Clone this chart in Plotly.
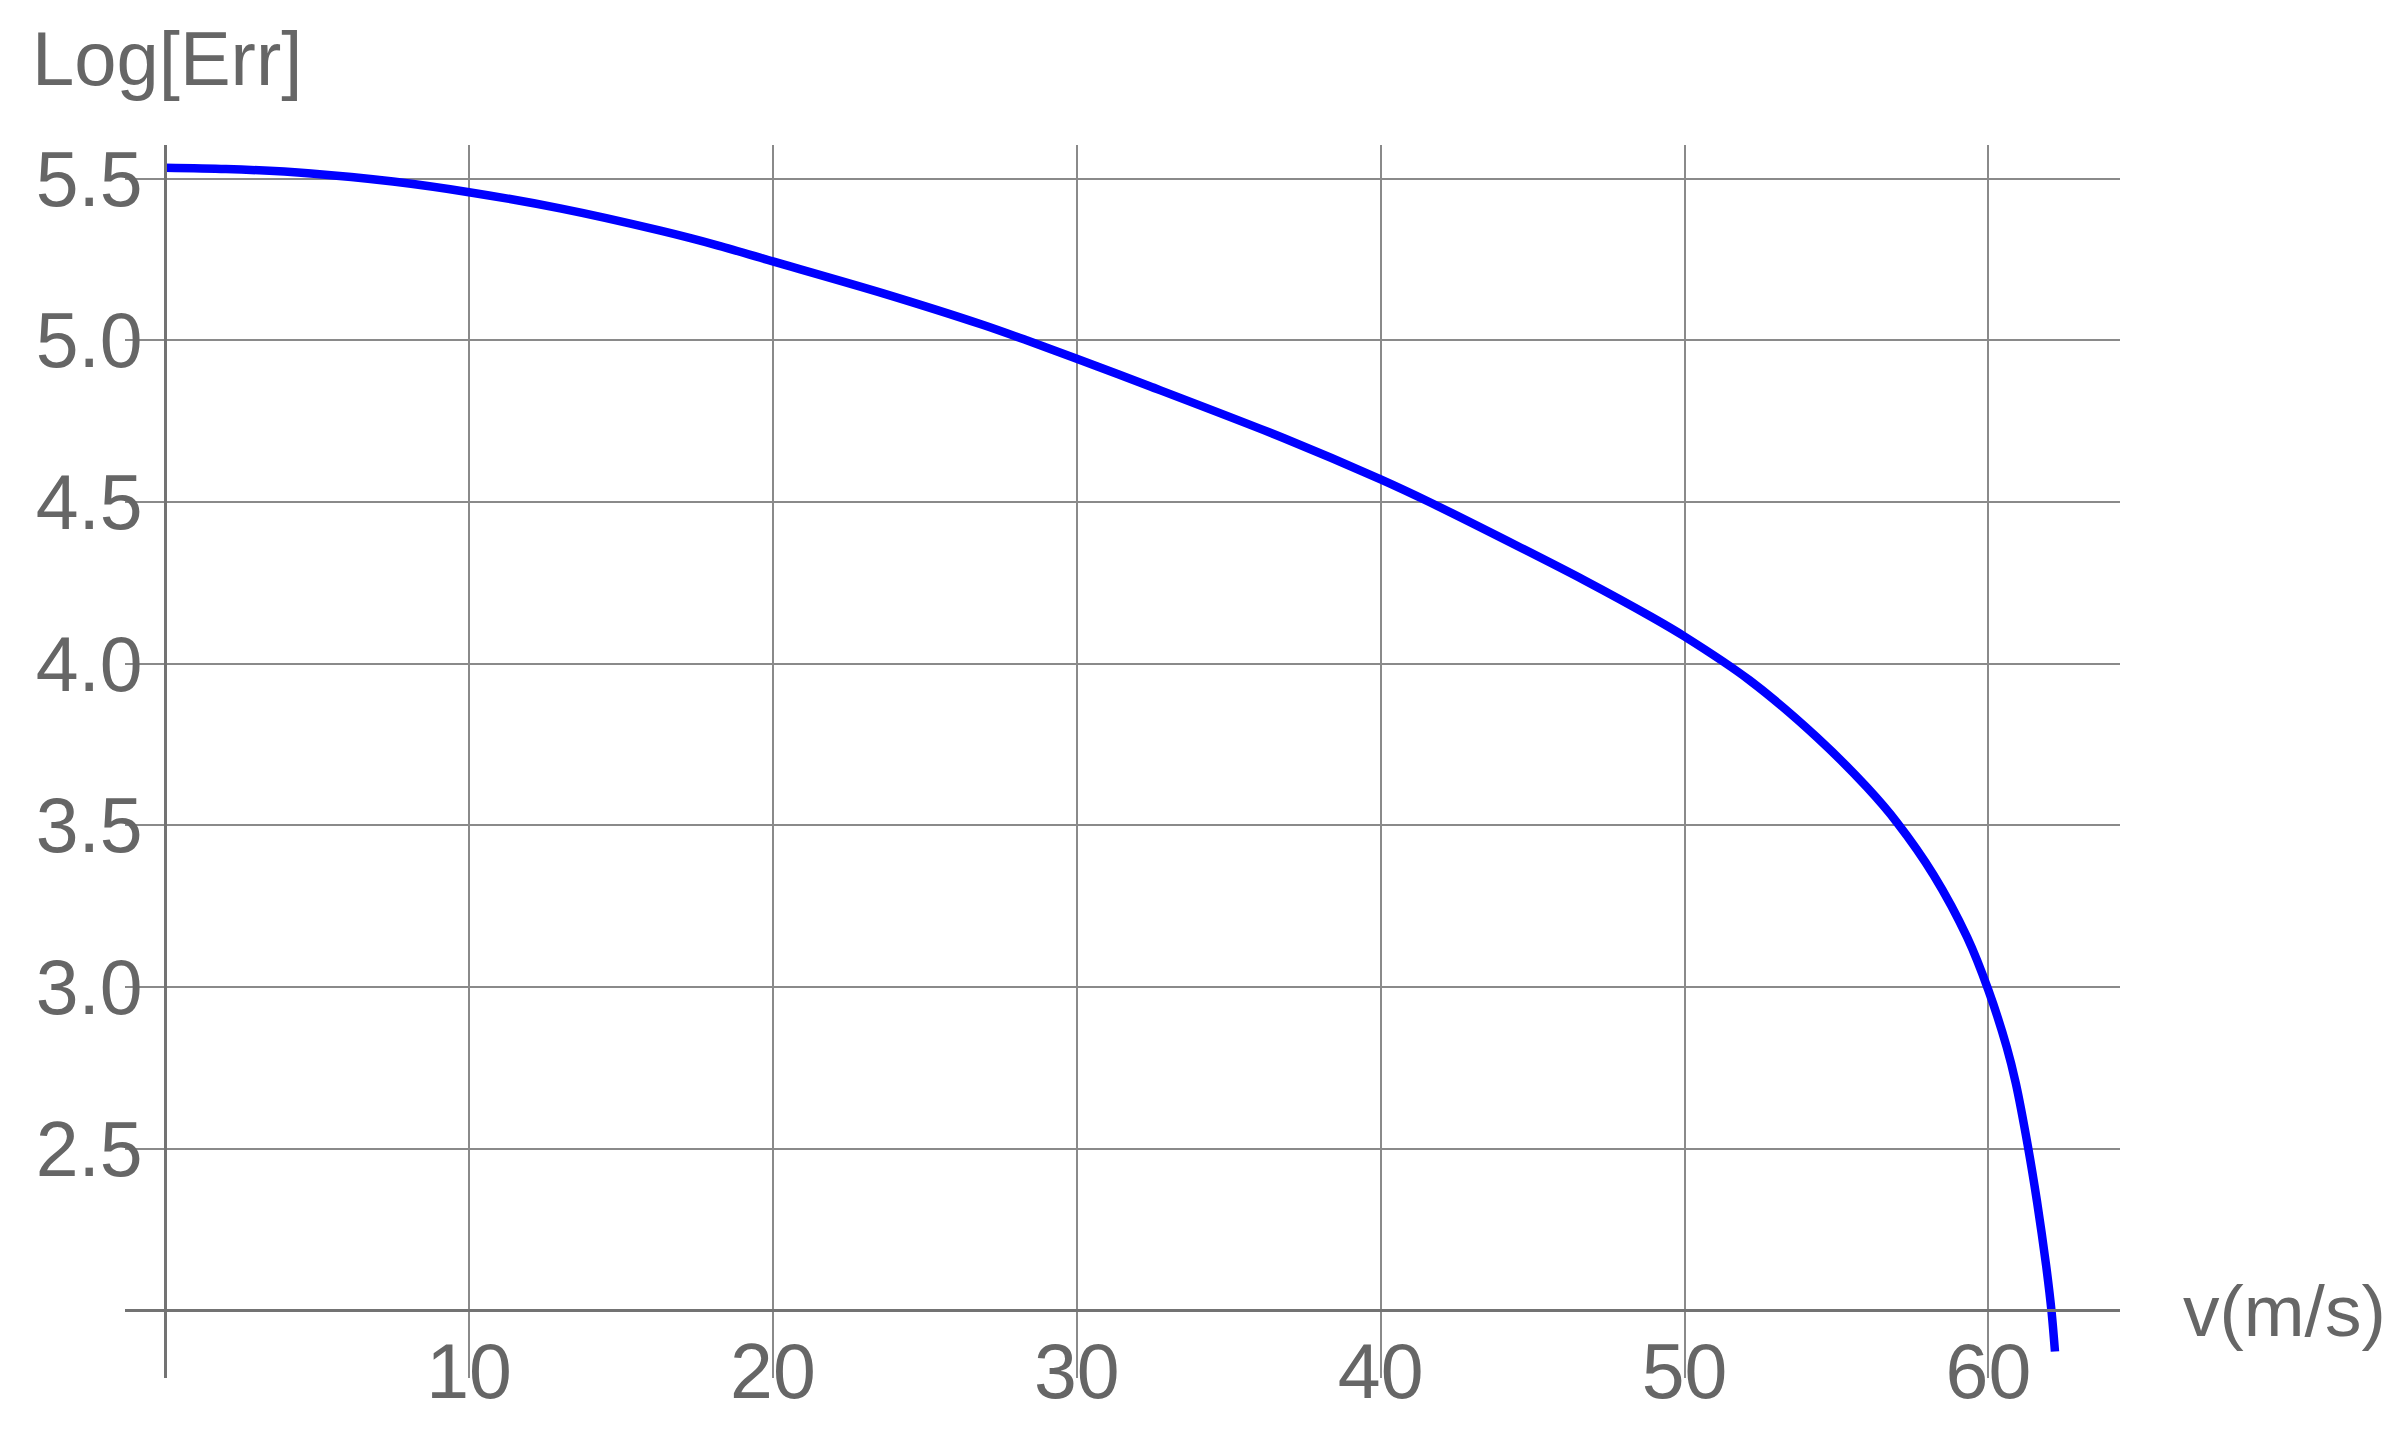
import plotly.graph_objects as go

# ---- data ----
v_vals = [0, 2, 4.8, 7.5, 10, 13, 16.3, 18.2, 20, 23.6, 26.9, 28.35, 30, 32.4,
          36.8, 40, 41.6, 44.5, 46.7, 48.9, 50, 52.15, 54.35, 56, 57, 58.2, 59.3, 60,
          60.6, 60.9, 61.3, 61.6, 61.9, 62.08, 62.19]
log_err = [5.534, 5.530, 5.516, 5.491, 5.458, 5.408, 5.339, 5.293, 5.244, 5.146,
           5.048, 5.0, 4.943, 4.858, 4.698, 4.570, 4.5, 4.364, 4.258, 4.145, 4.084,
           3.948, 3.773, 3.618, 3.508, 3.346, 3.154, 2.99, 2.815, 2.703, 2.507, 2.336,
           2.138, 1.994, 1.873]

x_ticks = [10, 20, 30, 40, 50, 60]
y_ticks = [2.5, 3.0, 3.5, 4.0, 4.5, 5.0, 5.5]
x_title = "v(m/s)"
y_title = "Log[Err]"

x_range = [-1.32, 64.33]
y_range = [1.791, 5.604]
x_origin = 0
y_origin = 2.0

FONT = "Liberation Sans, Arial, sans-serif"
TXT = "#666666"
GRID = "#8a8a8a"
AXIS = "#737373"

# figure size (page has an 8px body margin)
W, H = 2379, 1415
ML, MR, MT, MB = 117, 267, 137, 45
PW, PH = W - ML - MR, H - MT - MB


def px_to_paper_x(px):
    return (px - ML) / PW


def px_to_paper_y(py):
    return (H - MB - py) / PH


fig = go.Figure()
fig.add_trace(go.Scatter(x=v_vals, y=log_err, mode="lines",
                         line=dict(color="#0000ff", width=8.5, shape="spline",
                                   smoothing=0.8),
                         showlegend=False, hoverinfo="skip"))

xpos = (y_origin - y_range[0]) / (y_range[1] - y_range[0])
ypos = (x_origin - x_range[0]) / (x_range[1] - x_range[0])

fig.update_layout(
    width=W, height=H,
    margin=dict(l=ML, r=MR, t=MT, b=MB, pad=0),
    paper_bgcolor="white", plot_bgcolor="white",
    font=dict(family=FONT, color=TXT),
    xaxis=dict(range=x_range, tickvals=x_ticks, showgrid=True, gridcolor=GRID,
               gridwidth=2, zeroline=False, showline=True, linecolor=AXIS,
               linewidth=3, anchor="free", position=xpos, ticks="",
               automargin=False,
               tickfont=dict(size=77, color=TXT, family=FONT),
               ticklabelstandoff=-7),
    yaxis=dict(range=y_range, tickvals=y_ticks, tickformat=".1f", showgrid=True,
               gridcolor=GRID, gridwidth=2, zeroline=False, showline=True,
               linecolor=AXIS, linewidth=3, anchor="free", position=ypos,
               ticks="", automargin=False, ticklabelstandoff=6,
               tickfont=dict(size=77, color=TXT, family=FONT)),
    annotations=[
        dict(text=y_title, xref="paper", yref="paper",
             x=px_to_paper_x(22), y=px_to_paper_y(50.8),
             xanchor="left", yanchor="middle", showarrow=False,
             font=dict(size=76, color=TXT, family=FONT)),
        dict(text=x_title, xref="paper", yref="paper",
             x=px_to_paper_x(2173), y=px_to_paper_y(1302),
             xanchor="left", yanchor="middle", showarrow=False,
             font=dict(size=73, color=TXT, family=FONT)),
    ],
)

fig.write_html("out.html")
